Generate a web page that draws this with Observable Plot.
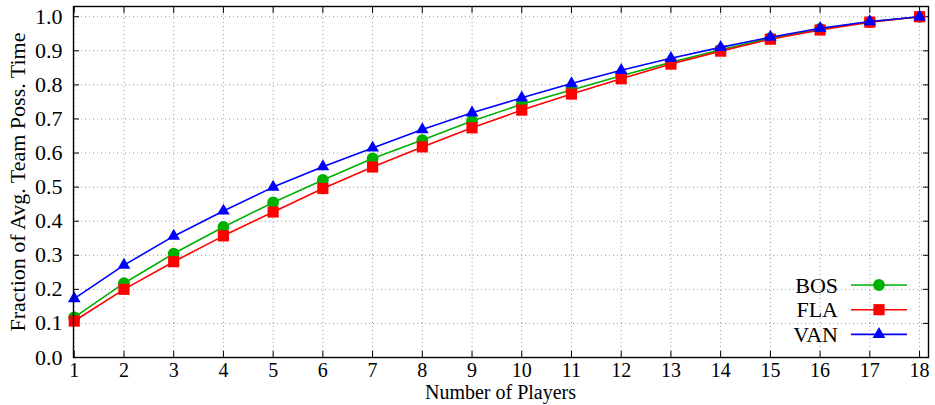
<!DOCTYPE html>
<html>
<head>
<meta charset="utf-8">
<script src="https://cdn.jsdelivr.net/npm/d3@7"></script>
<script src="https://cdn.jsdelivr.net/npm/@observablehq/plot@0.6"></script>
<style>
  html, body { margin: 0; padding: 0; background: #fff; }
  #chart { width: 935px; height: 405px; }
  svg { display: block; }
  svg, svg text { font-family: "Liberation Serif", "Times New Roman", Times, serif !important; }
</style>
</head>
<body>
<div id="chart"></div>
<script>
// ---- data ----
const players = [1,2,3,4,5,6,7,8,9,10,11,12,13,14,15,16,17,18];
const seriesNames = ["BOS", "FLA", "VAN"];
const bos = [0.118,0.218,0.305,0.383,0.455,0.521,0.584,0.638,0.694,0.743,0.785,0.827,0.866,0.903,0.937,0.964,0.985,1.0];
const fla = [0.107,0.200,0.281,0.357,0.427,0.496,0.559,0.618,0.674,0.726,0.773,0.818,0.861,0.899,0.934,0.961,0.984,1.0];
const van = [0.173,0.271,0.356,0.430,0.500,0.560,0.615,0.669,0.718,0.762,0.804,0.843,0.878,0.910,0.940,0.966,0.986,1.0];
const yTicks = [0,0.1,0.2,0.3,0.4,0.5,0.6,0.7,0.8,0.9,1.0];
const xLabel = "Number of Players";
const yLabel = "Fraction of Avg. Team Poss. Time";
const colors = {BOS: "#00b000", FLA: "#ff0000", VAN: "#0000ff"};
const symbols = {BOS: "circle", FLA: "square", VAN: "triangle"};
const symbolR = {BOS: 5.9, FLA: 6.3, VAN: 4.7};

const valuesBy = {BOS: bos, FLA: fla, VAN: van};
const rows = seriesNames.flatMap(s => players.map((p, i) => ({series: s, players: p, value: valuesBy[s][i]})));

const W = 935, H = 405;
const M = {left: 73, right: 7, top: 6, bottom: 48};
const font = '"Liberation Serif", "Times New Roman", Times, serif';

const seriesMarks = seriesNames.flatMap(s => {
  const d = rows.filter(r => r.series === s);
  return [
    Plot.line(d, {x: "players", y: "value", stroke: colors[s], strokeWidth: 1.6}),
    Plot.dot(d, {x: "players", y: "value", fill: colors[s], stroke: "none", symbol: symbols[s], r: symbolR[s]})
  ];
});

const chart = Plot.plot({
  width: W, height: H,
  marginLeft: M.left, marginRight: M.right, marginTop: M.top, marginBottom: M.bottom,
  style: {fontFamily: font, fontSize: "22px", color: "#000", background: "#fff"},
  x: {domain: [0.985, 18.18]},
  y: {domain: [0, 1.03]},
  marks: [
    Plot.gridX(players, {stroke: "#9a9a9a", strokeOpacity: 1, strokeDasharray: "1,3", strokeWidth: 1}),
    Plot.gridY(yTicks, {stroke: "#9a9a9a", strokeOpacity: 1, strokeDasharray: "1,3", strokeWidth: 1}),
    Plot.axisX(players, {anchor: "bottom", tickSize: -6, tickPadding: 11, fontSize: 20, label: null, tickFormat: d => String(d)}),
    Plot.axisX(players, {anchor: "top", tickSize: -6, tickFormat: () => "", label: null}),
    Plot.axisY(yTicks, {anchor: "left", tickSize: -6, tickPadding: 17, tickFormat: d3.format(".1f"), label: yLabel, labelAnchor: "center", labelArrow: "none", labelOffset: 64}),
    Plot.axisY(yTicks, {anchor: "right", tickSize: -6, tickFormat: () => "", label: null}),
    ...seriesMarks,
    Plot.frame({stroke: "#000", strokeWidth: 1.4})
  ]
});
document.getElementById("chart").appendChild(chart);

const svg = d3.select(chart);
const frameLeft = M.left, frameRight = W - M.right, frameBottom = H - M.bottom;

// ---- x axis title ----
svg.append("text")
  .attr("x", (frameLeft + frameRight) / 2).attr("y", 398.5)
  .attr("text-anchor", "middle").attr("font-size", 20).attr("fill", "#000")
  .text(xLabel);

// ---- legend (inside frame, bottom-right) ----
const leg = svg.append("g").attr("font-size", 22);
seriesNames.forEach((s, i) => {
  const cy = frameBottom - 72 + i * 24.7;
  const g = leg.append("g");
  g.append("text").attr("x", frameRight - 90).attr("y", cy).attr("dy", "0.35em")
    .attr("text-anchor", "end").attr("fill", "#000").text(s);
  g.append("line").attr("x1", frameRight - 77).attr("x2", frameRight - 21)
    .attr("y1", cy).attr("y2", cy).attr("stroke", colors[s]).attr("stroke-width", 1.6);
  const sym = {circle: d3.symbolCircle, square: d3.symbolSquare, triangle: d3.symbolTriangle}[symbols[s]];
  const r = symbolR[s];
  g.append("path").attr("transform", `translate(${frameRight - 49},${cy})`)
    .attr("d", d3.symbol(sym, Math.PI * r * r)()).attr("fill", colors[s]);
});
</script>
</body>
</html>
